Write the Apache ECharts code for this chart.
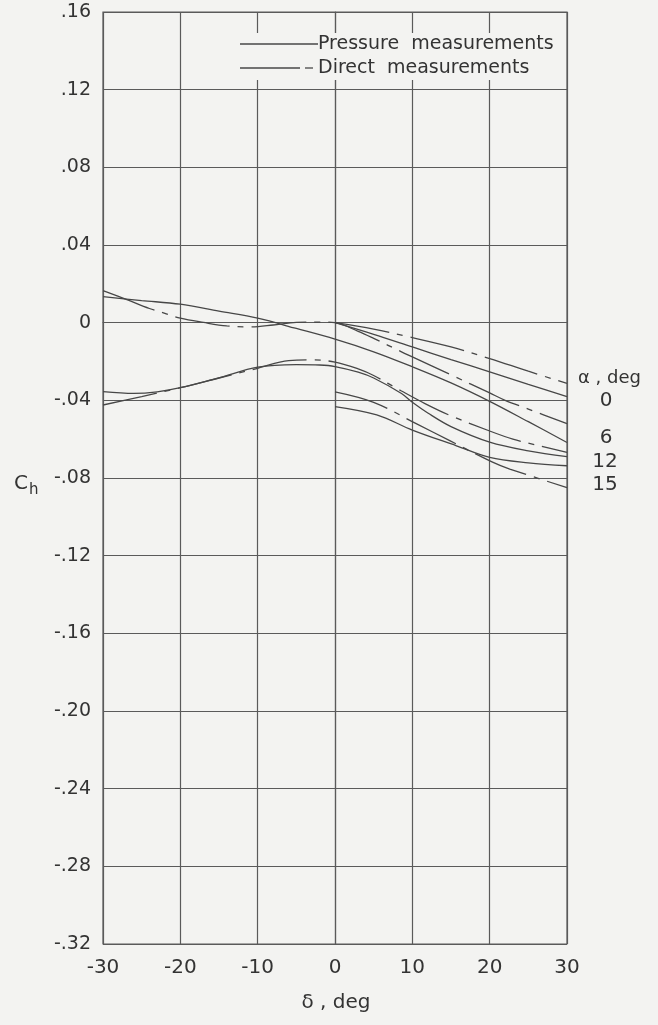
<!DOCTYPE html>
<html>
<head>
<meta charset="utf-8">
<script src="https://cdn.jsdelivr.net/npm/echarts@6/dist/echarts.min.js"></script>
<style>
html,body{margin:0;padding:0;background:#f3f3f1;}
#c{width:658px;height:1025px;}
</style>
</head>
<body>
<div id="c"></div>
<script>
// ---- tick labels ----
var xTickLabels = ['-30','-20','-10','0','10','20','30'];
var yTickLabels = ['-.32','-.28','-.24','-.20','-.16','-.12','-.08','-.04','0','.04','.08','.12','.16'];
var alphaLabels = ['0','6','12','15'];

// ---- alpha = 0 (delta 0..30) ----
var dA0 = [0, 5, 10, 15, 20, 25, 30];
var pressA0 = [0, -0.006, -0.0125, -0.019, -0.0253, -0.0318, -0.0381];
var directA0 = [0, -0.0033, -0.0077, -0.0125, -0.0185, -0.025, -0.0313];

// ---- alpha = 6 ----
var dP6 = [-30, -25, -20, -15, -10, -5, 0, 5, 10, 15, 20, 25, 30];
var pressA6 = [0.0134, 0.0114, 0.0095, 0.0059, 0.0023, -0.003, -0.0085, -0.015, -0.0227, -0.031, -0.0405, -0.051, -0.0617];
var dD6 = [-30, -27, -24, -22, -20, -17, -14, -11, -8, -5, -2, 0, 3, 5, 8.6, 10, 15, 20, 22, 25, 30];
var directA6 = [0.0165, 0.012, 0.0073, 0.0048, 0.0023, 0.0001, -0.0017, -0.0022, -0.0012, 0.0002, 0.0003, 0, -0.0045, -0.0081, -0.015, -0.0176, -0.0269, -0.0362, -0.040, -0.0445, -0.052];

// ---- alpha = 12 ----
var dP12 = [-30, -26, -23, -20, -15, -10, -5, -2, 0, 3, 5, 8.6, 10, 12, 15, 20, 25, 30];
var pressA12 = [-0.0355, -0.0364, -0.0356, -0.0335, -0.0284, -0.0229, -0.0216, -0.0218, -0.0226, -0.0255, -0.0285, -0.0365, -0.041, -0.0465, -0.0535, -0.0615, -0.066, -0.069];
var dD12 = [-30, -25, -20, -15, -10, -6, -3, 0, 3, 5, 8.6, 11.7, 15, 20, 23, 26, 30];
var directA12 = [-0.0424, -0.0381, -0.0335, -0.0285, -0.0235, -0.0195, -0.0192, -0.0203, -0.0238, -0.0272, -0.0352, -0.0418, -0.048, -0.0558, -0.060, -0.063, -0.0668];

// ---- alpha = 15 (delta 0..30) ----
var dP15 = [0, 5.4, 10, 15.7, 20, 25, 30];
var pressA15 = [-0.0432, -0.0475, -0.0553, -0.0634, -0.0694, -0.0722, -0.0737];
var dD15 = [0, 5, 10.5, 14.9, 20.3, 22.6, 30];
var directA15 = [-0.0356, -0.041, -0.052, -0.0609, -0.0717, -0.0754, -0.0849];

function zip(xs, ys){ return xs.map(function(x,i){ return [x, ys[i]]; }); }

var INK = '#474747';
var GRID = '#5a5a5a';
var FONT = 'DejaVu Sans';
var DASH = [55, 8, 6, 8];

function solid(name, xs, ys){
  return {name:name, type:'line', data:zip(xs,ys), smooth:0.35, showSymbol:false, symbol:'none',
    lineStyle:{color:INK, width:1.3, type:'solid'}, z:5};
}
function dashed(name, xs, ys){
  return {name:name, type:'line', data:zip(xs,ys), smooth:0.35, showSymbol:false, symbol:'none',
    lineStyle:{color:INK, width:1.3, type:DASH}, z:5};
}

var chart = echarts.init(document.getElementById('c'), null, {renderer:'canvas'});
var option = {
  backgroundColor:'#f3f3f1',
  animation:false,
  grid:{left:103, right:91, top:12, bottom:81, show:true, borderColor:GRID, borderWidth:1.2, backgroundColor:'transparent'},
  xAxis:{type:'value', min:-30, max:30, interval:10,
    axisLine:{show:true, lineStyle:{color:GRID, width:1.2}},
    axisTick:{show:false},
    splitLine:{show:true, lineStyle:{color:GRID, width:1.2}},
    axisLabel:{margin:14, color:'#333', fontFamily:FONT, fontSize:20,
      formatter:function(v){ var i = Math.round((v+30)/10); return xTickLabels[i]; }}
  },
  yAxis:{type:'value', min:-0.32, max:0.16, interval:0.04,
    axisLine:{show:true, lineStyle:{color:GRID, width:1.2}},
    axisTick:{show:false},
    splitLine:{show:true, lineStyle:{color:GRID, width:1.2}},
    axisLabel:{margin:12, color:'#333', fontFamily:FONT, fontSize:19,
      formatter:function(v){ var i = Math.round((v+0.32)/0.04); return yTickLabels[i]; }}
  },
  series:[
    solid('Pressure α=0', dA0, pressA0),
    dashed('Direct α=0', dA0, directA0),
    solid('Pressure α=6', dP6, pressA6),
    dashed('Direct α=6', dD6, directA6),
    solid('Pressure α=12', dP12, pressA12),
    dashed('Direct α=12', dD12, directA12),
    solid('Pressure α=15', dP15, pressA15),
    dashed('Direct α=15', dD15, directA15)
  ],
  graphic:[
    {type:'rect', shape:{x:232, y:33, width:324, height:47}, style:{fill:'#f3f3f1'}, z:10},
    {type:'line', shape:{x1:240, y1:44, x2:318, y2:44}, style:{stroke:INK, lineWidth:1.3}, z:11},
    {type:'line', shape:{x1:240, y1:68, x2:300, y2:68}, style:{stroke:INK, lineWidth:1.3}, z:11},
    {type:'line', shape:{x1:305, y1:68, x2:313, y2:68}, style:{stroke:INK, lineWidth:1.3}, z:11},
    {type:'text', x:318, y:44, z:11, style:{text:'Pressure  measurements', fill:'#333', font:'19px "DejaVu Sans"', textVerticalAlign:'middle', verticalAlign:'middle'}},
    {type:'text', x:318, y:68, z:11, style:{text:'Direct  measurements', fill:'#333', font:'19px "DejaVu Sans"', textVerticalAlign:'middle', verticalAlign:'middle'}},
    {type:'text', x:578, y:378, z:11, style:{text:'α , deg', fill:'#333', font:'18px "DejaVu Sans"', verticalAlign:'middle'}},
    {type:'text', x:606, y:401, z:11, style:{text:alphaLabels[0], fill:'#333', font:'20px "DejaVu Sans"', align:'center', verticalAlign:'middle'}},
    {type:'text', x:606, y:438, z:11, style:{text:alphaLabels[1], fill:'#333', font:'20px "DejaVu Sans"', align:'center', verticalAlign:'middle'}},
    {type:'text', x:605, y:462, z:11, style:{text:alphaLabels[2], fill:'#333', font:'20px "DejaVu Sans"', align:'center', verticalAlign:'middle'}},
    {type:'text', x:605, y:485, z:11, style:{text:alphaLabels[3], fill:'#333', font:'20px "DejaVu Sans"', align:'center', verticalAlign:'middle'}},
    {type:'text', x:14, y:484, z:11, style:{text:'{c|C}{h|h}', fill:'#333', verticalAlign:'middle',
      rich:{c:{fontFamily:FONT, fontSize:20, fill:'#333'}, h:{fontFamily:FONT, fontSize:15, fill:'#333', padding:[12,0,0,1]}}}},
    {type:'text', x:336, y:1003, z:11, style:{text:'δ , deg', fill:'#333', font:'20px "DejaVu Sans"', align:'center', verticalAlign:'middle'}}
  ]
};
chart.setOption(option);
</script>
</body>
</html>
